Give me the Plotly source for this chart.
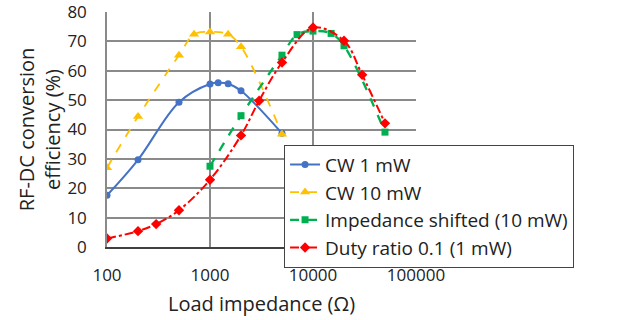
import plotly.graph_objects as go

# Data
cw1_x = [100, 200, 500, 1000, 1200, 1500, 2000, 5000]
cw1_y = [17.6, 29.7, 49.3, 55.5, 55.9, 55.6, 53.2, 38.7]

cw10_x = [100, 200, 500, 700, 1000, 1500, 2000, 5000]
cw10_y = [27.0, 44.4, 65.3, 72.4, 73.2, 72.4, 68.2, 38.4]

shift_x = [1000, 2000, 5000, 7000, 10000, 15000, 20000, 50000]
shift_y = [27.5, 44.7, 65.3, 72.3, 73.5, 72.7, 68.5, 39.1]

duty_x = [100, 200, 300, 500, 1000, 2000, 3000, 5000, 10000, 20000, 30000, 50000]
duty_y = [2.9, 5.4, 7.8, 12.5, 22.9, 38.0, 49.8, 62.8, 74.7, 70.2, 58.6, 42.1]

x_ticks = [100, 1000, 10000, 100000]
x_tick_labels = ["100", "1000", "10000", "100000"]
y_ticks = [0, 10, 20, 30, 40, 50, 60, 70, 80]

FONT = "Open Sans"

fig = go.Figure()
fig.add_trace(go.Scatter(
    x=cw1_x, y=cw1_y, name="CW 1 mW", mode="lines+markers",
    line=dict(color="#4472C4", width=2, shape="spline", smoothing=1),
    marker=dict(symbol="circle", size=7, color="#4472C4")))
fig.add_trace(go.Scatter(
    x=cw10_x, y=cw10_y, name="CW 10 mW", mode="lines+markers",
    line=dict(color="#FFC000", width=1.8, dash="dash", shape="spline", smoothing=1),
    marker=dict(symbol="triangle-up", size=9, color="#FFC000")))
fig.add_trace(go.Scatter(
    x=shift_x, y=shift_y, name="Impedance shifted (10 mW)", mode="lines+markers",
    line=dict(color="#00B050", width=2.3, dash="dash", shape="spline", smoothing=1),
    marker=dict(symbol="square", size=7, color="#00B050")))
fig.add_trace(go.Scatter(
    x=duty_x, y=duty_y, name="Duty ratio 0.1 (1 mW)", mode="lines+markers",
    line=dict(color="#FF0000", width=2, dash="dashdot", shape="spline", smoothing=1),
    marker=dict(symbol="diamond", size=8, color="#FF0000")))

grid = "#8a8a8a"
fig.update_layout(
    width=620, height=320,
    margin=dict(l=107, r=204, t=12, b=73, autoexpand=False),
    paper_bgcolor="white", plot_bgcolor="white",
    font=dict(family=FONT, color="#222222", size=17),
    showlegend=True,
    legend=dict(
        x=0.573, y=0.436, xanchor="left", yanchor="top",
        bgcolor="white", bordercolor="#444444", borderwidth=1,
        font=dict(size=19, family=FONT, color="#222222"),
        tracegroupgap=0, itemwidth=30,
        entrywidth=340,
    ),
    xaxis=dict(
        type="log", range=[2, 5],
        tickvals=x_ticks, ticktext=x_tick_labels,
        showgrid=True, gridcolor=grid, gridwidth=1.5,
        showline=True, linecolor="#404040", linewidth=1.5, mirror=False,
        ticks="", tickfont=dict(size=17), ticklabeloverflow="allow",
        ticklabelstandoff=12,
        title=dict(text="Load impedance (Ω)", font=dict(size=20), standoff=12),
        zeroline=False,
    ),
    yaxis=dict(
        range=[0, 80], tickvals=y_ticks,
        showgrid=True, gridcolor=grid, gridwidth=1.5,
        showline=True, linecolor=grid, linewidth=1.5, mirror=False,
        ticks="", tickfont=dict(size=17), ticklabelstandoff=15,
        ticklabeloverflow="allow",
        title=dict(text="RF-DC conversion<br>efficiency (%)", font=dict(size=20), standoff=1),
        zeroline=False,
    ),
)

fig.write_html("out.html", config={"displayModeBar": False},
               post_script="document.body.style.margin='0';document.body.style.padding='0';")
